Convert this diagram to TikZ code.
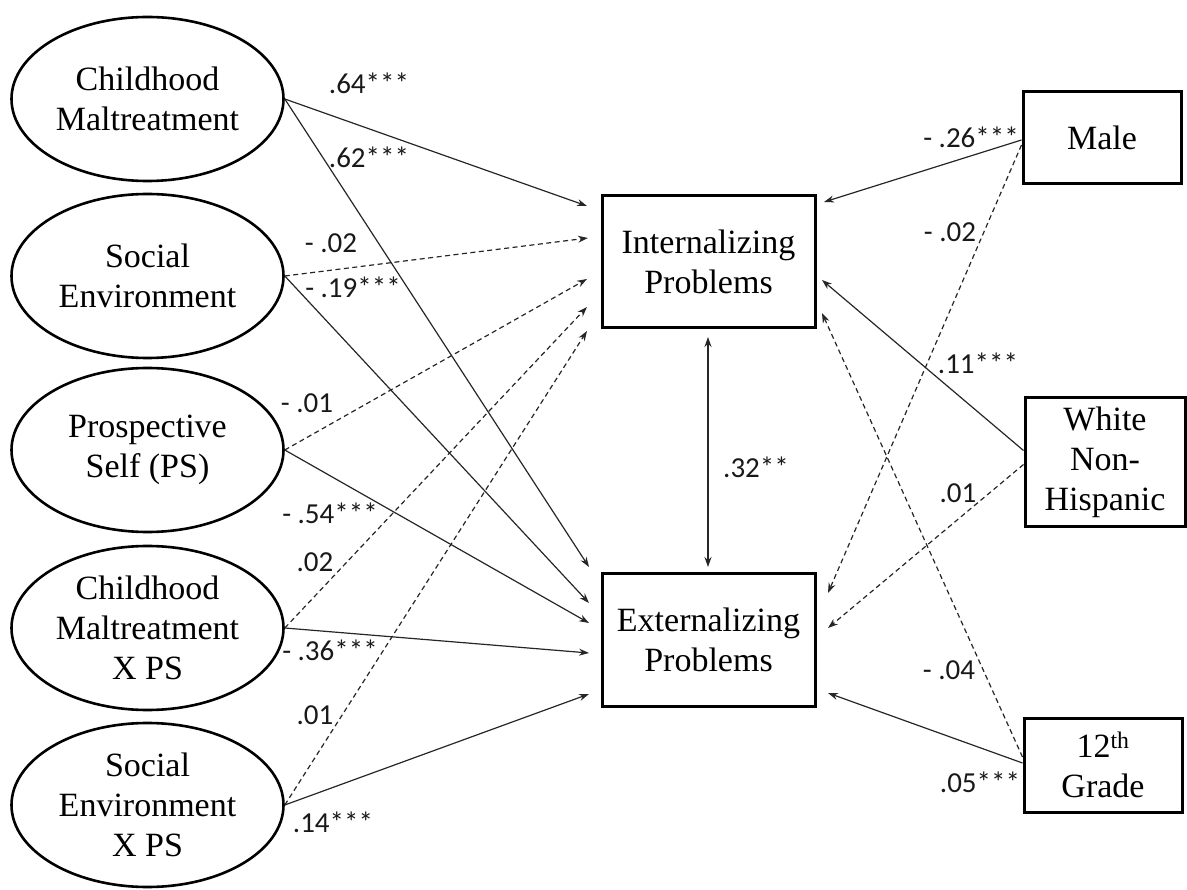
\documentclass[tikz,border=0pt]{standalone}
\usepackage{fontspec}
\setmainfont{Liberation Serif}
\newfontfamily\lblfont{Carlito}
\usetikzlibrary{arrows.meta,shapes.geometric,calc}
\begin{document}
\begin{tikzpicture}[x=1pt,y=-1pt,
  latent/.style={ellipse, draw, line width=2.6pt, minimum width=272pt, minimum height=164pt, inner sep=0pt, align=center, font=\fontsize{34}{40}\selectfont},
  obsbox/.style={rectangle, draw, line width=3pt, inner sep=0pt, align=center, font=\fontsize{34}{40}\selectfont},
  sigarrow/.style={line width=1.2pt, draw=black!85, -{Stealth[length=10pt,width=7pt]}},
  nsarrow/.style={sigarrow, dash pattern=on 5pt off 3.5pt},
  coef/.style={font=\lblfont\fontsize{29}{32}\selectfont, inner sep=0pt, text=black!90}
]
\useasboundingbox (0,0) rectangle (1187,890);

% latent variables
\node[latent] (cm)   at (147.5,99)  {Childhood\\Maltreatment};
\node[latent] (se)   at (147.5,276) {Social\\Environment};
\node[latent] (ps)   at (147.5,450) {Prospective\\Self (PS)};
\node[latent] (cmps) at (147.5,628) {Childhood\\Maltreatment\\X PS};
\node[latent] (seps) at (147.5,805) {Social\\Environment\\X PS};

% outcomes
\node[obsbox, minimum width=213pt, minimum height=132pt] (int) at (708.5,262)   {Internalizing\\Problems};
\node[obsbox, minimum width=213pt, minimum height=133pt] (ext) at (708.5,639.5) {Externalizing\\Problems};

% covariates
\node[obsbox, minimum width=158pt, minimum height=92pt]  (male) at (1102,138)   {Male};
\node[obsbox, minimum width=160pt, minimum height=129pt] (wnh)  at (1105,462.5) {White\\Non-\\Hispanic};
\node[obsbox, minimum width=158pt, minimum height=94pt]  (g12)  at (1103,765)   {12\textsuperscript{th}\\Grade};

% arrow tips
\coordinate (iL1) at (587,206);
\coordinate (iL2) at (588,238);
\coordinate (iL3) at (587,279);
\coordinate (iL4) at (587,307);
\coordinate (iL5) at (587,331);
\coordinate (eL1) at (589,567);
\coordinate (eL2) at (589,603);
\coordinate (eL3) at (589,623);
\coordinate (eL4) at (589,653);
\coordinate (eL5) at (589,694);
\coordinate (iR1) at (824,202);
\coordinate (iR2) at (822,280);
\coordinate (iR3) at (822,313);
\coordinate (eR1) at (828,593);
\coordinate (eR2) at (828,628);
\coordinate (eR3) at (828,693);
\coordinate (iB) at (708,337);
\coordinate (eT) at (708,567);

% left paths
\draw[sigarrow] (cm.east) -- (iL1);
\draw[sigarrow] (cm.east) -- (eL1);
\draw[nsarrow]  (se.east) -- (iL2);
\draw[sigarrow] (se.east) -- (eL2);
\draw[nsarrow]  (ps.east) -- (iL3);
\draw[sigarrow] (ps.east) -- (eL3);
\draw[nsarrow]  (cmps.east) -- (iL4);
\draw[sigarrow] (cmps.east) -- (eL4);
\draw[nsarrow]  (seps.east) -- (iL5);
\draw[sigarrow] (seps.east) -- (eL5);

% right paths
\draw[sigarrow] ($(male.west)+(0,2)$) -- (iR1);
\draw[nsarrow]  ($(male.west)+(0,7)$) -- (eR1);
\draw[sigarrow] ($(wnh.west)+(0,-12)$) -- (iR2);
\draw[nsarrow]  ($(wnh.west)+(0,2)$) -- (eR2);
\draw[nsarrow]  ($(g12.west)+(0,-8)$) -- (iR3);
\draw[sigarrow] ($(g12.west)+(0,-2)$) -- (eR3);

% residual covariance
\draw[sigarrow, {Stealth[length=10pt,width=7pt]}-{Stealth[length=10pt,width=7pt]}] (iB) -- (eT);

% coefficients
\node[coef] (c1)  at (369,83)  {.64***};
\node[coef] (c2)  at (369,157) {.62***};
\node[coef] (c3)  at (331,243) {- .02};
\node[coef] (c4)  at (353,287) {- .19***};
\node[coef] (c5)  at (307,403) {- .01};
\node[coef] (c6)  at (330,513) {- .54***};
\node[coef] (c7)  at (315,562) {.02};
\node[coef] (c8)  at (330,650) {- .36***};
\node[coef] (c9)  at (315,715) {.01};
\node[coef] (c10) at (333,822) {.14***};
\node[coef] (c11) at (756,467) {.32**};
\node[coef] (c12) at (971,137) {- .26***};
\node[coef] (c13) at (950,232) {- .02};
\node[coef] (c14) at (978,363) {.11***};
\node[coef] (c15) at (958,493) {.01};
\node[coef] (c16) at (949,670) {- .04};
\node[coef] (c17) at (980,782) {.05***};
\end{tikzpicture}
\end{document}
